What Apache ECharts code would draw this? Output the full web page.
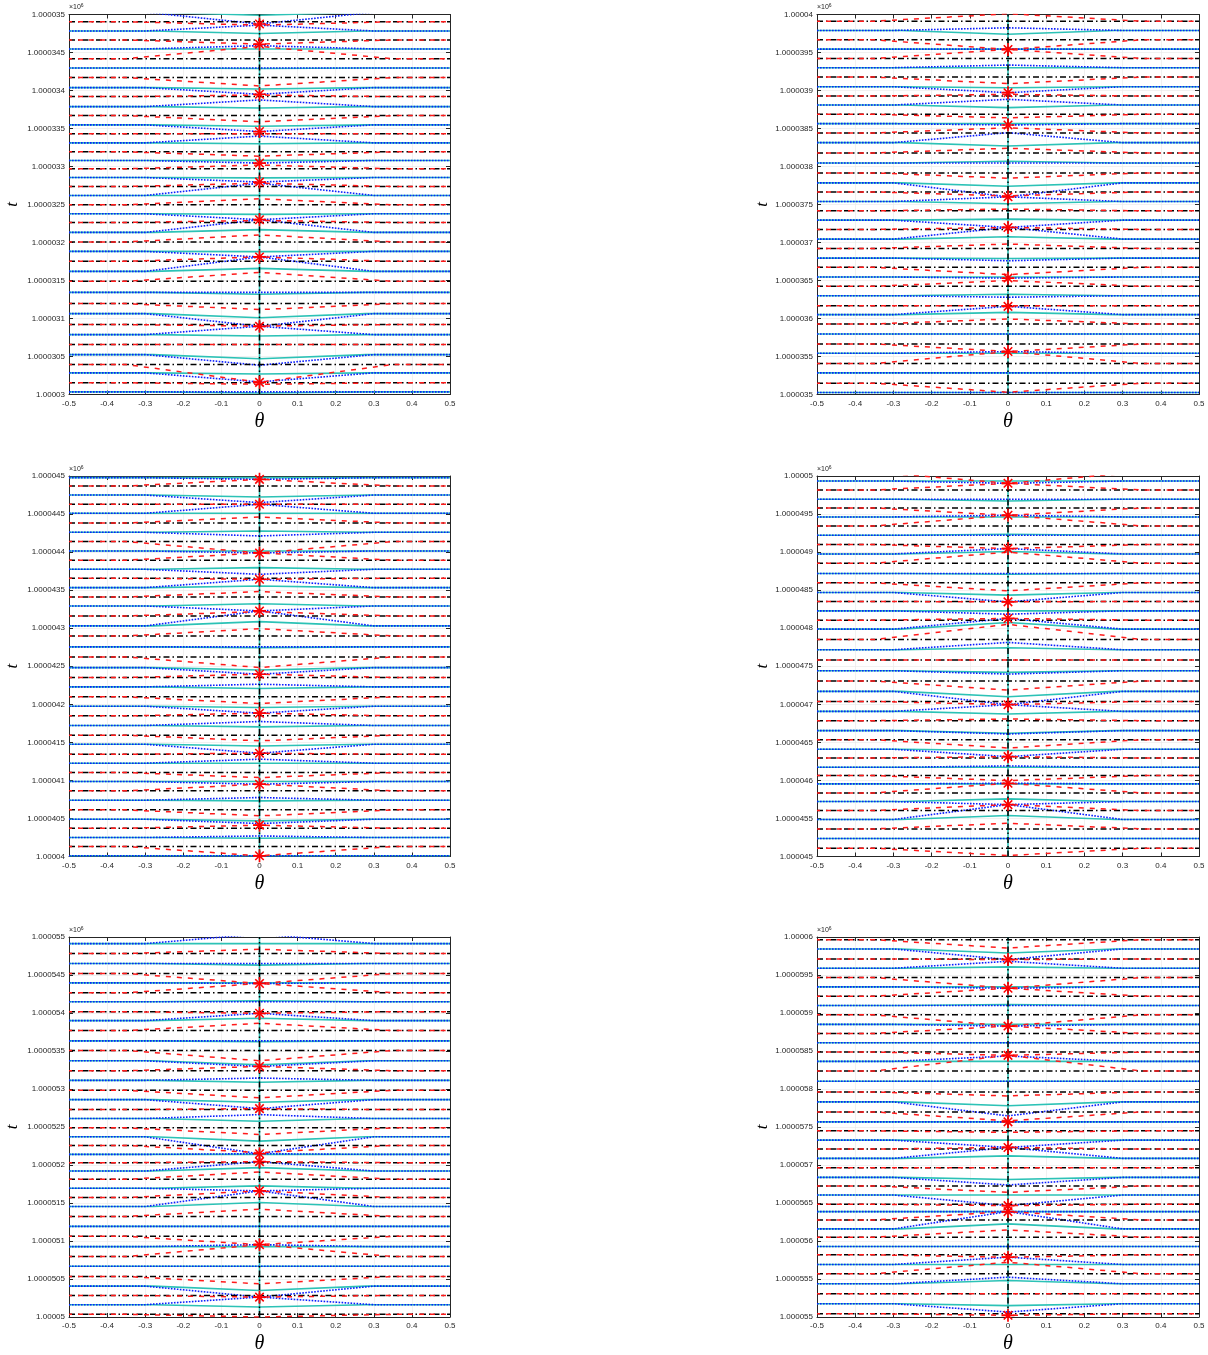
<!DOCTYPE html>
<html><head><meta charset="utf-8">
<script src="https://cdn.jsdelivr.net/npm/echarts@6/dist/echarts.min.js"></script>
<style>html,body{margin:0;padding:0;background:#fff}#c{width:1208px;height:1355px}</style>
</head><body><div id="c"></div>
<script>
// ---------- tick labels ----------
const xTickLabels = ['-0.5','-0.4','-0.3','-0.2','-0.1','0','0.1','0.2','0.3','0.4','0.5'];
const P1_yTickLabels = ['1.00003','1.0000305','1.000031','1.0000315','1.000032','1.0000325','1.000033','1.0000335','1.000034','1.0000345','1.000035'];
const P2_yTickLabels = ['1.000035','1.0000355','1.000036','1.0000365','1.000037','1.0000375','1.000038','1.0000385','1.000039','1.0000395','1.00004'];
const P3_yTickLabels = ['1.00004','1.0000405','1.000041','1.0000415','1.000042','1.0000425','1.000043','1.0000435','1.000044','1.0000445','1.000045'];
const P4_yTickLabels = ['1.000045','1.0000455','1.000046','1.0000465','1.000047','1.0000475','1.000048','1.0000485','1.000049','1.0000495','1.00005'];
const P5_yTickLabels = ['1.00005','1.0000505','1.000051','1.0000515','1.000052','1.0000525','1.000053','1.0000535','1.000054','1.0000545','1.000055'];
const P6_yTickLabels = ['1.000055','1.0000555','1.000056','1.0000565','1.000057','1.0000575','1.000058','1.0000585','1.000059','1.0000595','1.00006'];
const P_yRange = [[1000030,1000035],[1000035,1000040],[1000040,1000045],[1000045,1000050],[1000050,1000055],[1000055,1000060]];

// ---------- panel 1 ----------
const P1_blueBase = [1000035.03,1000034.783,1000034.547,1000034.297,1000034.038,1000033.788,1000033.548,1000033.311,1000033.079,1000032.855,1000032.619,1000032.378,1000032.133,1000031.883,1000031.620,1000031.344,1000031.064,1000030.788,1000030.525,1000030.285,1000030.035];
const P1_blueApex = [1000034.875,1000034.86,1000034.59,1000034.297,1000033.95,1000033.876,1000033.46,1000033.40,1000033.045,1000032.795,1000032.78,1000032.30,1000032.30,1000031.81,1000031.81,1000031.344,1000030.898,1000030.898,1000030.385,1000030.165,1000030.035];
const P1_cyanApex = [1000034.99,1000034.75,1000034.547,1000034.29,1000034.02,1000033.77,1000033.53,1000033.30,1000033.08,1000032.85,1000032.62,1000032.37,1000032.17,1000031.88,1000031.66,1000031.32,1000031.01,1000030.77,1000030.47,1000030.27,1000030.02];
const P1_blackBase = [1000034.905,1000034.665,1000034.419,1000034.170,1000033.920,1000033.670,1000033.430,1000033.193,1000032.970,1000032.737,1000032.497,1000032.264,1000032.007,1000031.752,1000031.489,1000031.196,1000030.920,1000030.657,1000030.394,1000030.154];
const P1_redApex = [1000034.86,1000034.61,1000034.58,1000034.06,1000033.94,1000033.59,1000033.43,1000033.136,1000033.02,1000032.78,1000032.576,1000032.29,1000032.10,1000031.81,1000031.607,1000031.117,1000030.90,1000030.657,1000030.162,1000030.135];
const P1_stars = [1000034.875,1000034.608,1000033.951,1000033.46,1000033.045,1000032.795,1000032.30,1000031.81,1000030.897,1000030.16];

// ---------- panel 2 ----------
const P2_blueBase = [1000039.790,1000039.545,1000039.300,1000039.050,1000038.809,1000038.564,1000038.314,1000038.047,1000037.785,1000037.539,1000037.294,1000037.045,1000036.795,1000036.546,1000036.300,1000036.051,1000035.797,1000035.543,1000035.285,1000035.026];
const P2_blueApex = [1000039.825,1000039.545,1000039.335,1000038.971,1000038.884,1000038.546,1000038.445,1000038.047,1000037.601,1000037.601,1000037.198,1000037.198,1000036.76,1000036.532,1000036.28,1000036.160,1000035.797,1000035.565,1000035.285,1000035.026];
const P2_cyanApex = [1000039.74,1000039.545,1000039.30,1000039.037,1000038.775,1000038.564,1000038.27,1000038.07,1000037.74,1000037.51,1000037.307,1000037.075,1000036.79,1000036.546,1000036.32,1000036.08,1000035.797,1000035.543,1000035.285,1000035.026];
const P2_blackBase = [1000039.912,1000039.667,1000039.422,1000039.177,1000038.927,1000038.687,1000038.441,1000038.179,1000037.916,1000037.666,1000037.417,1000037.172,1000036.922,1000036.673,1000036.423,1000036.169,1000035.928,1000035.665,1000035.407,1000035.149];
const P2_redApex = [1000040.01,1000039.54,1000039.54,1000039.09,1000038.95,1000038.64,1000038.51,1000038.24,1000037.846,1000037.613,1000037.44,1000037.198,1000036.98,1000036.577,1000036.50,1000036.169,1000035.994,1000035.565,1000035.565,1000035.03];
const P2_stars = [1000039.540,1000038.971,1000038.546,1000037.601,1000037.198,1000036.532,1000036.160,1000035.565];

// ---------- panel 3 ----------
const P3_blueBase = [1000044.978,1000044.750,1000044.510,1000044.260,1000044.015,1000043.774,1000043.533,1000043.292,1000043.030,1000042.754,1000042.482,1000042.229,1000041.975,1000041.721,1000041.475,1000041.226,1000040.985,1000040.740,1000040.490,1000040.249,1000040.009];
const P3_blueApex = [1000044.956,1000044.65,1000044.628,1000044.212,1000043.989,1000043.708,1000043.643,1000043.227,1000043.227,1000042.754,1000042.395,1000042.264,1000041.883,1000041.774,1000041.357,1000041.279,1000040.950,1000040.775,1000040.433,1000040.27,1000040.009];
const P3_cyanApex = [1000044.978,1000044.724,1000044.510,1000044.277,1000044.015,1000043.796,1000043.555,1000043.322,1000043.087,1000042.745,1000042.45,1000042.207,1000041.957,1000041.703,1000041.453,1000041.226,1000040.985,1000040.731,1000040.468,1000040.24,1000040.009];
const P3_blackBase = [1000044.869,1000044.628,1000044.383,1000044.138,1000043.893,1000043.656,1000043.411,1000043.161,1000042.898,1000042.623,1000042.352,1000042.098,1000041.848,1000041.594,1000041.344,1000041.103,1000040.863,1000040.613,1000040.372,1000040.131];
const P3_redApex = [1000044.956,1000044.628,1000044.462,1000043.989,1000043.989,1000043.643,1000043.481,1000043.218,1000042.994,1000042.483,1000042.396,1000042.01,1000041.883,1000041.52,1000041.357,1000041.037,1000040.950,1000040.534,1000040.412,1000040.009];
const P3_stars = [1000044.956,1000044.628,1000043.989,1000043.643,1000043.227,1000042.395,1000041.883,1000041.357,1000040.950,1000040.412,1000040.009];

// ---------- panel 4 ----------
const P4_blueBase = [1000049.934,1000049.694,1000049.462,1000049.221,1000048.976,1000048.718,1000048.469,1000048.228,1000047.988,1000047.717,1000047.441,1000047.170,1000046.907,1000046.654,1000046.409,1000046.172,1000045.954,1000045.722,1000045.486,1000045.236];
const P4_blueApex = [1000049.904,1000049.694,1000049.484,1000049.221,1000049.046,1000048.718,1000048.346,1000048.184,1000048.128,1000047.813,1000047.397,1000046.995,1000046.995,1000046.61,1000046.312,1000046.19,1000045.962,1000045.682,1000045.682,1000045.236];
const P4_cyanApex = [1000049.934,1000049.672,1000049.462,1000049.234,1000049.007,1000048.709,1000048.434,1000048.228,1000048.075,1000047.743,1000047.419,1000047.10,1000046.872,1000046.619,1000046.392,1000046.172,1000045.954,1000045.757,1000045.538,1000045.236];
const P4_blackBase = [1000050.052,1000049.816,1000049.580,1000049.344,1000049.099,1000048.854,1000048.596,1000048.351,1000048.106,1000047.852,1000047.581,1000047.305,1000047.038,1000046.785,1000046.535,1000046.295,1000046.063,1000045.836,1000045.604,1000045.363,1000045.109];
const P4_redApex = [1000049.904,1000049.904,1000049.484,1000049.484,1000049.046,1000049.00,1000048.491,1000048.346,1000048.128,1000048.05,1000047.581,1000047.187,1000046.995,1000046.807,1000046.426,1000046.312,1000045.997,1000045.962,1000045.682,1000045.437,1000045.013];
const P4_stars = [1000049.904,1000049.484,1000049.046,1000048.346,1000048.128,1000046.995,1000046.312,1000045.962,1000045.682];

// ---------- panel 5 ----------
const P5_blueBase = [1000054.913,1000054.651,1000054.397,1000054.148,1000053.900,1000053.633,1000053.371,1000053.114,1000052.860,1000052.611,1000052.371,1000052.140,1000051.921,1000051.694,1000051.454,1000051.192,1000050.926,1000050.668,1000050.406,1000050.162];
const P5_blueApex = [1000055.04,1000054.651,1000054.389,1000054.148,1000053.996,1000053.633,1000053.297,1000053.144,1000052.742,1000052.663,1000052.148,1000052.148,1000052.044,1000051.659,1000051.659,1000051.192,1000050.952,1000050.668,1000050.262,1000050.262];
const P5_cyanApex = [1000054.913,1000054.63,1000054.397,1000054.161,1000053.931,1000053.624,1000053.319,1000053.088,1000052.825,1000052.576,1000052.314,1000052.140,1000051.965,1000051.725,1000051.506,1000051.192,1000050.926,1000050.668,1000050.349,1000050.131];
const P5_blackBase = [1000054.782,1000054.520,1000054.266,1000054.017,1000053.769,1000053.507,1000053.240,1000052.983,1000052.729,1000052.489,1000052.258,1000052.031,1000051.812,1000051.572,1000051.323,1000051.061,1000050.795,1000050.533,1000050.284,1000050.035];
const P5_redApex = [1000054.839,1000054.389,1000054.389,1000053.996,1000053.865,1000053.372,1000053.297,1000052.883,1000052.742,1000052.402,1000052.162,1000052.044,1000051.908,1000051.659,1000051.419,1000050.952,1000050.952,1000050.437,1000050.262,1000050.0];
const P5_stars = [1000054.389,1000053.996,1000053.297,1000052.742,1000052.148,1000052.044,1000051.659,1000050.952,1000050.262];

// ---------- panel 6 ----------
const P6_blueBase = [1000059.843,1000059.589,1000059.344,1000059.099,1000058.850,1000058.609,1000058.364,1000058.101,1000057.830,1000057.568,1000057.327,1000057.087,1000056.837,1000056.605,1000056.387,1000056.159,1000055.927,1000055.691,1000055.437,1000055.175];
const P6_blueApex = [1000059.703,1000059.68,1000059.326,1000059.099,1000058.828,1000058.609,1000058.434,1000058.101,1000057.646,1000057.568,1000057.231,1000057.231,1000056.737,1000056.465,1000056.387,1000056.387,1000055.927,1000055.787,1000055.524,1000055.065];
const P6_cyanApex = [1000059.79,1000059.607,1000059.344,1000059.112,1000058.85,1000058.609,1000058.364,1000058.101,1000057.78,1000057.568,1000057.327,1000057.12,1000056.81,1000056.605,1000056.387,1000056.225,1000055.927,1000055.691,1000055.48,1000055.15];
const P6_blackBase = [1000059.965,1000059.711,1000059.466,1000059.221,1000058.976,1000058.731,1000058.486,1000058.237,1000057.961,1000057.699,1000057.450,1000057.209,1000056.964,1000056.724,1000056.483,1000056.277,1000056.050,1000055.818,1000055.569,1000055.306,1000055.044];
const P6_redApex = [1000059.855,1000059.703,1000059.326,1000059.326,1000058.828,1000058.828,1000058.443,1000058.443,1000057.909,1000057.58,1000057.43,1000057.231,1000056.964,1000056.64,1000056.465,1000056.387,1000056.146,1000055.787,1000055.72,1000055.306,1000055.022];
const P6_stars = [1000059.703,1000059.326,1000058.828,1000058.443,1000057.568,1000057.231,1000056.465,1000056.387,1000055.787,1000055.022];

// ---------- assembly ----------
const panels = [
  {bb:P1_blueBase,ba:P1_blueApex,ca:P1_cyanApex,kb:P1_blackBase,ra:P1_redApex,st:P1_stars,yl:P1_yTickLabels,yr:P_yRange[0]},
  {bb:P2_blueBase,ba:P2_blueApex,ca:P2_cyanApex,kb:P2_blackBase,ra:P2_redApex,st:P2_stars,yl:P2_yTickLabels,yr:P_yRange[1]},
  {bb:P3_blueBase,ba:P3_blueApex,ca:P3_cyanApex,kb:P3_blackBase,ra:P3_redApex,st:P3_stars,yl:P3_yTickLabels,yr:P_yRange[2]},
  {bb:P4_blueBase,ba:P4_blueApex,ca:P4_cyanApex,kb:P4_blackBase,ra:P4_redApex,st:P4_stars,yl:P4_yTickLabels,yr:P_yRange[3]},
  {bb:P5_blueBase,ba:P5_blueApex,ca:P5_cyanApex,kb:P5_blackBase,ra:P5_redApex,st:P5_stars,yl:P5_yTickLabels,yr:P_yRange[4]},
  {bb:P6_blueBase,ba:P6_blueApex,ca:P6_cyanApex,kb:P6_blackBase,ra:P6_redApex,st:P6_stars,yl:P6_yTickLabels,yr:P_yRange[5]}
];
const layout = [
  {left:69, top:14.5, width:381, height:380},
  {left:817, top:14.5, width:382, height:380},
  {left:69, top:476, width:381, height:380.5},
  {left:817, top:476, width:382, height:380.5},
  {left:69, top:937, width:381, height:381},
  {left:817, top:937, width:382, height:381}
];
const AX = '#262626';
const CYAN = '#2cc2b6', BLUE = '#0a1eff', RED = '#ff1a1a', BLACK = '#000000';
const PLUS = 'path://M-1.3,-10L1.3,-10L1.3,-1.3L10,-1.3L10,1.3L1.3,1.3L1.3,10L-1.3,10L-1.3,1.3L-10,1.3L-10,-1.3L-1.3,-1.3Z';

function curve(base, apex, s){
  if (Math.abs(apex-base) < 1e-9) return [[-0.5,base],[0.5,base]];
  return [[-0.5,base],[-s,base],[0,apex],[s,base],[0.5,base]];
}

const grids=[], xAxes=[], yAxes=[], series=[], graphics=[];
panels.forEach((p,i)=>{
  const L = layout[i];
  grids.push({left:L.left, top:L.top, width:L.width, height:L.height, containLabel:false});
  const xi = xAxes.length, yi = yAxes.length;
  xAxes.push({gridIndex:i, type:'value', min:-0.5, max:0.5, interval:0.1, position:'bottom',
    axisLine:{show:true, onZero:false, lineStyle:{color:AX, width:1}},
    axisTick:{show:true, inside:true, length:4, lineStyle:{color:AX}},
    axisLabel:{fontSize:8, color:AX, margin:5, fontFamily:'Liberation Sans, Arial',
      formatter:v=>xTickLabels[Math.round((v+0.5)*10)]},
    splitLine:{show:true, lineStyle:{color:'#e8e8e8', width:0.6}},
    name:'θ', nameLocation:'middle', nameGap:17,
    nameTextStyle:{fontFamily:'Liberation Serif, DejaVu Serif', fontStyle:'italic', fontSize:20, color:'#000'}});
  xAxes.push({gridIndex:i, type:'value', min:-0.5, max:0.5, interval:0.1, position:'top',
    axisLine:{show:true, onZero:false, lineStyle:{color:AX, width:1}},
    axisTick:{show:true, inside:true, length:4, lineStyle:{color:AX}},
    axisLabel:{show:false}, splitLine:{show:false}});
  yAxes.push({gridIndex:i, type:'value', min:p.yr[0], max:p.yr[1], interval:0.5, position:'left',
    axisLine:{show:true, onZero:false, lineStyle:{color:AX, width:1}},
    axisTick:{show:true, inside:true, length:4, lineStyle:{color:AX}},
    axisLabel:{fontSize:8, color:AX, margin:4, fontFamily:'Liberation Sans, Arial',
      formatter:v=>p.yl[Math.round((v-p.yr[0])/0.5)]},
    splitLine:{show:true, lineStyle:{color:'#e8e8e8', width:0.6}},
    name:'t', nameLocation:'middle', nameRotate:90, nameGap:i%2===0?48:46,
    nameTextStyle:{fontFamily:'Liberation Serif, DejaVu Serif', fontStyle:'italic', fontSize:17, color:'#000'}});
  yAxes.push({gridIndex:i, type:'value', min:p.yr[0], max:p.yr[1], interval:0.5, position:'right',
    axisLine:{show:true, onZero:false, lineStyle:{color:AX, width:1}},
    axisTick:{show:true, inside:true, length:4, lineStyle:{color:AX}},
    axisLabel:{show:false}, splitLine:{show:false}});
  const base = {type:'line', xAxisIndex:xi, yAxisIndex:yi, symbol:'none', silent:true, animation:false, clip:true};
  // cyan solid
  p.bb.forEach((b,k)=>series.push(Object.assign({},base,{data:curve(b,p.ca[k],0.28), lineStyle:{color:CYAN,width:1.6,type:'solid'}})));
  // vertical cyan at theta=0
  series.push(Object.assign({},base,{data:[[0,p.yr[0]],[0,p.yr[1]]], lineStyle:{color:CYAN,width:1.6}}));
  // blue dotted
  p.bb.forEach((b,k)=>series.push(Object.assign({},base,{data:curve(b,p.ba[k],0.3), lineStyle:{color:BLUE,width:1.6,type:[1.6,1.4]}})));
  // black dash-dot
  p.kb.forEach((b)=>series.push(Object.assign({},base,{data:[[-0.5,b],[0.5,b]], lineStyle:{color:BLACK,width:1.5,type:[6,3,1.5,3]}})));
  // red dashed
  p.kb.forEach((b,k)=>series.push(Object.assign({},base,{data:curve(b,p.ra[k],0.35), lineStyle:{color:RED,width:1.5,type:[5,6],dashOffset:2}})));
  // vertical black dash-dot
  series.push(Object.assign({},base,{data:[[0,p.yr[0]],[0,p.yr[1]]], lineStyle:{color:BLACK,width:1.5,type:[6,3,1.5,3]}}));
  // stars (asterisk = plus + rotated plus)
  const starData = p.st.map(s=>[0,s]);
  series.push({type:'scatter', xAxisIndex:xi, yAxisIndex:yi, silent:true, animation:false, clip:false, z:10,
    data:starData, symbol:PLUS, symbolSize:13, itemStyle:{color:'#ff0000', opacity:1}});
  series.push({type:'scatter', xAxisIndex:xi, yAxisIndex:yi, silent:true, animation:false, clip:false, z:10,
    data:starData, symbol:PLUS, symbolSize:12, symbolRotate:45, itemStyle:{color:'#ff0000', opacity:1}});
  // x10^6 multiplier
  graphics.push({type:'text', left:L.left, top:L.top-11,
    style:{text:'×10{s|6}', fill:AX, font:'7px Liberation Sans, Arial',
      rich:{s:{fontSize:5, verticalAlign:'top', fill:AX, padding:[0,0,3,0]}}}});
});

const chart = echarts.init(document.getElementById('c'), null, {renderer:'canvas'});
chart.setOption({animation:false, grid:grids, xAxis:xAxes, yAxis:yAxes, series:series, graphic:graphics});
</script></body></html>
